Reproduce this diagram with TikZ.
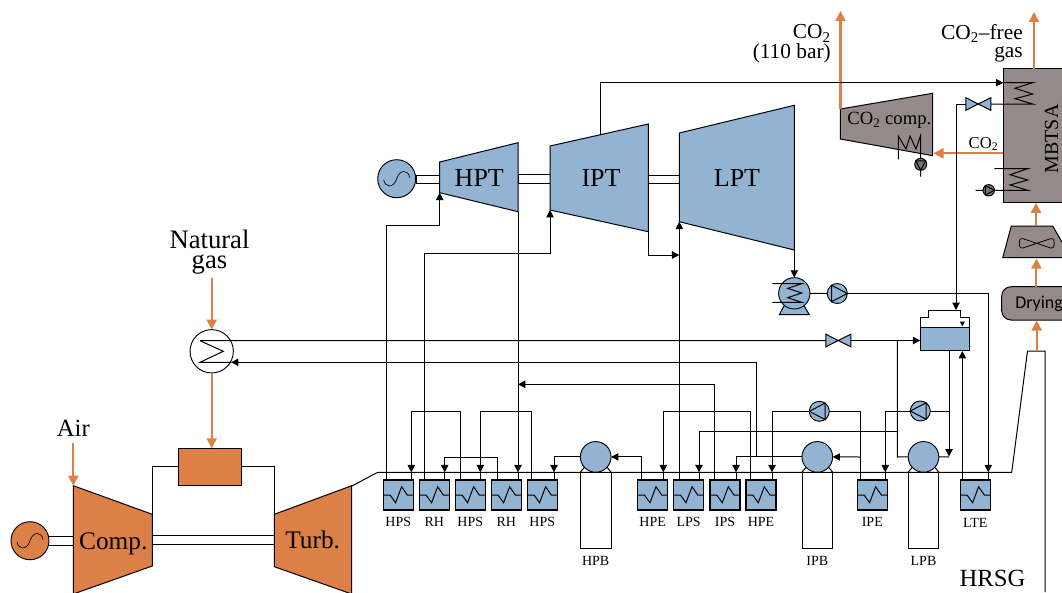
\documentclass[tikz,border=0pt]{standalone}
\usepackage{fontspec}
\setmainfont{Liberation Serif}
\newfontfamily\dryfont{Carlito}
\usetikzlibrary{arrows.meta,calc}
\definecolor{bluefill}{HTML}{93B3D3}
\definecolor{orangefill}{HTML}{DD8047}
\definecolor{grayfill}{HTML}{948A8A}
\definecolor{darkpump}{HTML}{7A7070}
\tikzset{
  wire/.style={draw=black,line width=.75pt},
  flow/.style={wire,-{Triangle[length=5.5pt,width=5.5pt]}},
  gasflow/.style={draw=orangefill,line width=1.6pt,-{Triangle[length=7.5pt,width=7.5pt]}},
  hxbox/.style={draw=black,line width=.8pt,fill=bluefill,minimum width=22.5pt,minimum height=22.5pt,inner sep=0pt,outer sep=0pt},
  roundshape/.style={circle,draw=black,line width=.7pt,inner sep=0pt,outer sep=0pt},
  tinylabel/.style={font=\fontsize{10.5}{12}\selectfont,inner sep=0pt},
  biglabel/.style={font=\fontsize{18.5}{20}\selectfont,inner sep=0pt,anchor=base},
  turblabel/.style={font=\fontsize{19.5}{21}\selectfont,inner sep=0pt,anchor=base},
  midlabel/.style={font=\fontsize{16}{18}\selectfont,inner sep=0pt,anchor=base east},
  shape line/.style={draw=black,line width=.75pt}
}
% name, left x, left port x, right port x, label, label y
\newcommand{\hxb}[6]{%
  \node[hxbox] (#1) at (#2+15,495) {};
  \coordinate (#1L) at (#3,480);
  \coordinate (#1R) at (#4,480);
  \coordinate (#1A) at (#4,472.3);
  \draw[wire] (#2,495)--++(6.7,0)--++(5.6,7.7)--++(6,-16)--++(5.7,8.3)--++(6,0);
  \node[tinylabel] (#1lab) at (#2+15,#6) {#5};
}
% name, centre x, label
\newcommand{\drm}[3]{%
  \node[draw=black,line width=.7pt,fill=white,minimum width=23pt,minimum height=57pt,inner sep=0pt,outer sep=0pt] (#1body) at (#2,510.2) {};
  \draw[wire] (#2-15.4,472.3)--(#2-11.5,467.5) (#2+15.4,472.3)--(#2+11.5,467.5);
  \node[roundshape,fill=bluefill,minimum size=23pt] (#1) at (#2,456.9) {};
  \node[tinylabel] (#1lab) at (#2,561) {#3};
}
% name, x, y, radius, angle, fill
\newcommand{\pmp}[6]{%
  \node[roundshape,fill=#6,minimum size=#4*1.5pt] (#1) at (#2,#3) {};
  \draw[wire] ($(#2,#3)+(#5:#4)$)--($(#2,#3)+(#5+125:#4)$)--($(#2,#3)+(#5-125:#4)$)--cycle;
}
% name, x, y, fill
\newcommand{\gnr}[4]{%
  \node[roundshape,fill=#4,minimum size=28.5pt] (#1) at (#2,#3) {};
  \draw[draw=black,line width=.5pt] (#2-13,#3+1) .. controls (#2-12,#3+9) and (#2-3,#3+10) .. (#2,#3) .. controls (#2+3,#3-10) and (#2+12,#3-9) .. (#2+13,#3-1);
}
% name, x1, x2, y1, y2
\newcommand{\shf}[5]{%
  \draw[wire,fill=white] (#2,#4) rectangle (#3,#5);
}
\begin{document}
\begin{tikzpicture}[x=.75pt,y=-.75pt]
\useasboundingbox (0,0) rectangle (1062,592);
\clip (0,0) rectangle (1062,592);
\fill[white] (0,0) rectangle (1062,592);
% bus heights
\coordinate (yA) at (0,411);
\coordinate (yB) at (0,457);
\coordinate (yC) at (0,431.3);
\coordinate (yD) at (0,384.3);

% HRSG outline
\draw[wire] (351.7,486) .. controls (362,481) and (370,476) .. (378,472.3) -- (1011.7,472.3) -- (1027.5,351) -- (1045,351) -- (1045,592);
\node[biglabel] (hrsg) at (992.5,586) {HRSG};

% gas turbine
\shf{s1}{48}{73.3}{536}{545.3}
\shf{s2}{152.3}{274.3}{535.7}{544.3}
\draw[shape line,fill=orangefill] (73.3,485.7)--(152.3,514.3)--(152.3,566)--(73.3,594)--cycle;
\draw[shape line,fill=orangefill] (274.3,514.3)--(351.7,485.7)--(351.7,594)--(274.3,566.7)--cycle;
\coordinate (compT) at (152.3,514.3);
\coordinate (turbT) at (274.3,514.3);
\coordinate (compIn) at (73.3,485.7);
\gnr{gen1}{30}{540.7}{orangefill}
\node[turblabel,font=\fontsize{19}{21}\selectfont] (comp) at (113.3,549) {Comp.};
\node[turblabel,font=\fontsize{19}{21}\selectfont] (turb) at (312.7,548.3) {Turb.};
\node[draw=black,line width=.7pt,fill=orangefill,minimum width=47.5pt,minimum height=27.8pt,inner sep=0pt,outer sep=0pt] (comb) at (210,466.8) {};
\draw[wire] (comb.west) -| (compT);
\draw[wire] (comb.east) -| (turbT);
\node[biglabel] (air) at (73.3,436.7) {Air};
\coordinate (airS) at (73.3,442.7);
\draw[gasflow] (airS)--(compIn);

% natural gas heater
\node[roundshape,fill=white,minimum size=32.5pt] (hx) at (211.7,351.3) {};
\node[biglabel,font=\fontsize{20}{22}\selectfont] (ngas1) at (209.5,248) {Natural};
\node[biglabel,font=\fontsize{20}{22}\selectfont] (ngas2) at (209.5,268) {gas};
\coordinate (ngS) at (211.7,278);
\draw[gasflow] (ngS)--(hx.north);
\draw[gasflow] (hx.south)--(comb.north -| hx.south);
\coordinate (hxa) at (200,340.7);
\coordinate (hxb) at (223.3,351.3);
\coordinate (hxc) at (200,362.3);
\draw[wire] (hxa)--(hxb)--(hxc)--(231,362.3);

% steam turbines
\shf{s3}{416}{439.7}{175.3}{183.3}
\shf{s4}{518}{550}{174.7}{183}
\shf{s5}{648.3}{679.3}{175.3}{183.7}
\draw[shape line,fill=bluefill] (439.7,162)--(518,142.7)--(518,211.7)--(439.7,192.7)--cycle;
\draw[shape line,fill=bluefill] (550,146)--(648.3,124)--(648.3,231.7)--(550,210)--cycle;
\draw[shape line,fill=bluefill] (679.3,133)--(794.3,105.3)--(794.3,250)--(679.3,221.7)--cycle;
\gnr{gen2}{396.7}{178.7}{bluefill}
\node[turblabel] (hpt) at (479.3,186) {HPT};
\node[turblabel] (ipt) at (601,186) {IPT};
\node[turblabel] (lpt) at (737,186.5) {LPT};
\coordinate (hptIn) at (439.7,192.7);
\coordinate (hptOut) at (518,211.7);
\coordinate (iptIn) at (550,210);
\coordinate (iptOut) at (648.3,231.7);
\coordinate (iptTop) at (600,135);
\coordinate (lptIn) at (679.3,221.7);
\coordinate (lptSide) at (679.3,255);
\coordinate (lptOut) at (794.3,250);

% heat exchangers
\hxb{hpsa}{383.3}{386.3}{411.3}{HPS}{521.7}
\hxb{rha}{419.3}{424.3}{444.7}{RH}{521.7}
\hxb{hpsb}{455.3}{460.3}{480.3}{HPS}{521.7}
\hxb{rhb}{491.3}{497.3}{518}{RH}{521.7}
\hxb{hpsc}{527.3}{531.7}{554}{HPS}{521.7}
\hxb{hpea}{637.7}{641.3}{663.3}{HPE}{521.7}
\hxb{lps}{673.7}{679.3}{699}{LPS}{521.7}
\hxb{ips}{710}{714.3}{736}{IPS}{521.7}
\hxb{hpeb}{746}{750.7}{772}{HPE}{521.7}
\hxb{ipe}{857.3}{860}{885.3}{IPE}{521.7}
\hxb{lte}{960.3}{962.3}{988.3}{LTE}{522.7}

% drums
\drm{hpb}{595.7}{HPB}
\drm{ipb}{817.3}{IPB}
\drm{lpb}{923.5}{LPB}

% pumps on the HRSG
\pmp{pipe}{819.3}{411.3}{10}{180}{bluefill}
\pmp{plpb}{920.3}{411}{10}{180}{bluefill}

% condenser
\draw[shape line,fill=bluefill] (779.3,314.7)--(809.3,314.7)--(803,304)--(785,304)--cycle;
\node[roundshape,fill=bluefill,minimum size=23.5pt] (cond) at (794.3,293.3) {};
\draw[wire] (772.3,283.7)--(801.7,283.7)--(787.7,288.3)--(801.7,293)--(787.7,297.7)--(801.7,302.3)--(772.3,302.3);
\pmp{pcond}{837.3}{293.5}{10}{0}{bluefill}

% deaerator
\node[draw=black,line width=.7pt,fill=bluefill,minimum width=36.75pt,minimum height=17.25pt,inner sep=0pt,outer sep=0pt] (tank) at (944.8,338.8) {};
\draw[wire] (tank.north west)--++(0,-9.6)--++(8,0)--++(0,-7.7) coordinate (tanktopL) -- (960.7,310)--(960.7,317.7)--(969.3,317.7)--(tank.north east);
\coordinate (tankIn) at (956,310);
\fill (959.8,321.7)--(964.8,321.7)--(962.3,326.3)--cycle;

% valves
\newcommand{\vlv}[3]{%
  \coordinate (#1) at (#2,#3);
  \coordinate (#1L) at (#2-12.5,#3);
  \coordinate (#1R) at (#2+12.5,#3);
  \draw[shape line,fill=bluefill] (#2-12.5,#3-6.3)--(#2+12.5,#3+6.3)--(#2+12.5,#3-6.3)--(#2-12.5,#3+6.3)--cycle;
}
\vlv{vfeed}{838.3}{340.5}
\vlv{vco}{978.3}{104}

% MBTSA and CO2 side
\draw[shape line,fill=grayfill] (1003.3,69) rectangle (1070,202.3);
\node[inner sep=0pt,rotate=90,font=\fontsize{15}{18}\selectfont] (mbtsa) at (1051.5,139) {MBTSA};
\draw[shape line,fill=grayfill] (840.3,109)--(932.7,93.3)--(932.7,155.7)--(840.3,139)--cycle;
\coordinate (ccTop) at (840.5,109);
\coordinate (ccRight) at (933.5,153.3);
\node[inner sep=0pt,font=\fontsize{14}{15}\selectfont] (cclab) at (889.3,120.7) {CO\textsubscript{2} comp.};
\draw[wire] (898.3,159.3)--(898.3,136)--(906,149)--(910,136)--(916,149)--(920.5,135.7)--(920.5,176.7);
\pmp{pco}{920.7}{164.3}{6}{90}{darkpump}
\coordinate (mbS) at (1034,69);
\coordinate (mbL) at (1003.3,153.3);
\coordinate (coTip) at (840.5,11);
\coordinate (frTip) at (1034,12);
\draw[gasflow] (ccTop)--(coTip);
\draw[gasflow] (mbS)--(frTip);
\draw[gasflow] (mbL)--(ccRight);
\node[inner sep=0pt,font=\fontsize{12.5}{14}\selectfont] (co2s) at (983.5,143.7) {CO\textsubscript{2}};
\node[midlabel] (co2a) at (831,39) {CO\textsubscript{2}};
\node[midlabel] (co2b) at (831,58.3) {(110 bar)};
\node[midlabel] (frea) at (1023,39.5) {CO\textsubscript{2}–free};
\node[midlabel] (freb) at (1023,57.5) {gas};

% MBTSA coils
\coordinate (coilTop) at (1003.3,82.7);
\draw[wire] (coilTop)--(1032.7,82.7)--(1015,88.3)--(1032.7,94)--(1015,98.7)--(1032.7,104)--(vcoR);
\draw[wire] (994.3,168.7)--(1027.7,168.7)--(1010,174.7)--(1027.7,180)--(1010,185)--(1027.7,190.3)--(975.7,190.3);
\pmp{pmb}{988.7}{190.3}{5.7}{0}{darkpump}

% fan and dryer
\draw[shape line,fill=grayfill] (1011.3,226)--(1052.7,226)--(1071,257.7)--(1002.7,257.7)--cycle;
\coordinate (fanC) at (1036.7,243.3);
\draw[wire,line width=.6pt] (fanC) -- (1023,238.7) .. controls (1019.5,238) and (1019,241) .. (1019.3,243.3) .. controls (1019,245.5) and (1019.5,248.5) .. (1023,248) -- (fanC) -- (1050.5,238.7) .. controls (1054,238) and (1054.5,241) .. (1054.2,243.3) .. controls (1054.5,245.5) and (1054,248.5) .. (1050.5,248) -- cycle;
\draw[shape line,fill=grayfill,rounded corners=7pt] (1001.7,286.7) rectangle (1085,320);
\node[anchor=west,inner sep=0pt,font=\dryfont\fontsize{13.5}{15}\selectfont] (dry) at (1015,304) {Drying};
\coordinate (dryT) at (1036.4,286.7);
\coordinate (dryB) at (1036.7,320.5);
\coordinate (fanB) at (1036.4,258.5);
\coordinate (fanT) at (1036,226);
\coordinate (mbB) at (1036,202.8);
\coordinate (hrsgT) at (1036.7,351);
\draw[gasflow] (hrsgT)--(dryB);
\draw[gasflow] (dryT)--(fanB);
\draw[gasflow] (fanT)--(mbB);

% steam connectors
\draw[flow] (hpsaL) -- (hpsaL |- 0,225) -| (hptIn);
\draw[flow] (rhaL) -- (rhaL |- 0,253.3) -| (iptIn);
\draw[flow] (iptOut) |- (lptSide);
\draw[flow] (lpsL) -- (lptIn);
\draw[flow] (hptOut) -- (rhbA);
\draw[wire] (rhbA)--(rhbR);
\draw[flow] (hpsbL) -- (hpsbL |- yA) -| (hpsaA);
\draw[wire] (hpsaA)--(hpsaR);
\draw[flow] (rhbL) -- (rhbL |- yB) -| (rhaA);
\draw[wire] (rhaA)--(rhaR);
\draw[flow] (hpscL) -- (hpscL |- yA) -| (hpsbA);
\draw[wire] (hpsbA)--(hpsbR);
\draw[flow] (hpb.west) -| (hpscA);
\draw[wire] (hpscA)--(hpscR);
\draw[flow] (hpeaL) -- (hpeaL |- hpb.east) -- (hpb.east);
\draw[flow] (hpebL) -- (hpebL |- yA) -| (hpeaA);
\draw[wire] (hpeaA)--(hpeaR);
\draw[flow] (897.3,431.3) -- (lpsR |- yC) -- (lpsA);
\draw[wire] (lpsA)--(lpsR);
\draw[flow] (ipsL) -- (ipsL |- yD) -- (rhbR |- yD);
\draw[flow] (ipb.west) -| (ipsA);
\draw[wire] (ipsA)--(ipsR);
\draw[flow] (756,457) -- (756,362.3) -- (231,362.3);
\draw[flow] (pipe.west) -| (hpebA);
\draw[wire] (hpebA)--(hpebR);
\draw[wire] (ipeL) -- (ipeL |- pipe.east) -- (pipe.east);
\draw[flow] (860,457) -- (ipb.east);
\draw[flow] (plpb.west) -| (ipeA);
\draw[wire] (ipeA)--(ipeR);
\draw[wire] (plpb.east) -- (949,411);
\draw[flow] (949,350.3) -- (949,456.5);
\draw[wire] (lpb.east) -- (949,457);
\draw[flow] (lteL) -- (962.3,351);
\draw[flow] (pcond.east) -- (lteR |- pcond.east) -- (lteA);
\draw[wire] (lteA)--(lteR);
\draw[wire] (cond.east)--(pcond.west);
\draw[flow] (lptOut)--(cond.north);
\draw[wire] (hxa)--(vfeedL);
\draw[flow] (vfeedR)--(tank.west |- vfeedR);
\draw[wire] (897.3,340.7)--(897.3,457) -- (lpb.west);
\draw[flow] (iptTop) |- (coilTop);
\draw[flow] (vcoL) -- (956,104) -- (tankIn);
\end{tikzpicture}
\end{document}
